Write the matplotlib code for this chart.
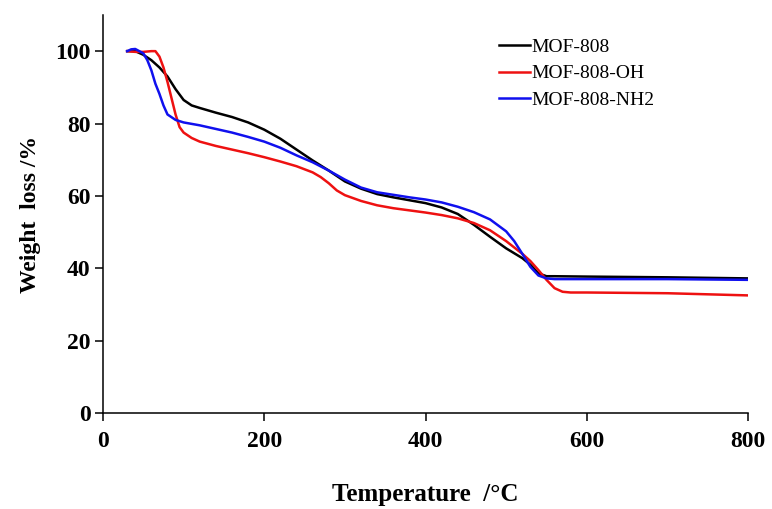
import matplotlib.pyplot as plt

# TGA curves read as (temperature degC, weight %)
t_808 = [30, 40, 50, 60, 70, 80, 90, 100, 110, 120, 140, 160, 180, 200, 220, 240, 260, 280,
         300, 320, 340, 360, 380, 400, 420, 440, 460, 480, 500, 520, 530, 540, 550, 560, 600, 700, 800]
w_808 = [100, 100, 99, 97.5, 95.5, 93, 89.5, 86.5, 85, 84.3, 83, 81.8, 80.3, 78.3, 75.8, 72.8, 69.8, 67,
         64, 62, 60.5, 59.6, 58.8, 58, 56.8, 55, 52, 48.7, 45.5, 42.8, 41, 38.6, 37.8, 37.8, 37.7, 37.5, 37.2]

t_oh = [30, 40, 50, 60, 65, 70, 75, 80, 85, 90, 95, 100, 110, 120, 140, 160, 180, 200, 220, 240, 260,
        270, 280, 290, 300, 320, 340, 360, 380, 400, 420, 440, 460, 480, 500, 520, 530, 540, 550, 560,
        570, 580, 600, 700, 800]
w_oh = [100, 99.8, 99.8, 100, 100, 98.5, 95.5, 91.5, 87, 82.5, 79, 77.5, 76, 75, 73.8, 72.8, 71.8, 70.7,
        69.5, 68.2, 66.5, 65.2, 63.5, 61.5, 60.2, 58.6, 57.4, 56.6, 56, 55.4, 54.7, 53.8, 52.5, 50.5, 47.5,
        44, 42, 39.5, 36.8, 34.5, 33.5, 33.3, 33.3, 33.1, 32.5]

t_nh2 = [30, 35, 40, 45, 50, 55, 60, 65, 70, 75, 80, 90, 100, 120, 140, 160, 180, 200, 220, 240, 260,
         280, 300, 320, 340, 360, 380, 400, 420, 440, 460, 480, 500, 510, 520, 530, 540, 550, 560, 600,
         700, 800]
w_nh2 = [100, 100.5, 100.6, 100, 99.4, 97.5, 94.7, 91, 88.2, 85, 82.5, 81, 80.3, 79.5, 78.5, 77.5, 76.3,
         75, 73.3, 71.2, 69.3, 67, 64.5, 62.3, 61, 60.3, 59.6, 59, 58.2, 57, 55.5, 53.5, 50.2, 47.5, 44,
         40.4, 38, 37.2, 37, 37, 37, 36.8]

x_ticks = [0, 200, 400, 600, 800]
y_ticks = [0, 20, 40, 60, 80, 100]

plt.rcParams['font.family'] = ['Liberation Serif', 'DejaVu Serif']

fig = plt.figure(figsize=(7.72, 5.09), dpi=100)
ax = fig.add_axes([0.1334, 0.1886, 0.8356, 0.782])

ax.plot(t_808, w_808, color='black', lw=1.8, label='MOF-808')
ax.plot(t_oh, w_oh, color='#ee1111', lw=1.8, label='MOF-808-OH')
ax.plot(t_nh2, w_nh2, color='#1010ee', lw=1.8, label='MOF-808-NH2')

ax.set_xlim(0, 800)
ax.set_ylim(0, 110)
ax.set_xticks(x_ticks)
ax.set_yticks(y_ticks)
for s in ['top', 'right']:
    ax.spines[s].set_visible(False)
for s in ['left', 'bottom']:
    ax.spines[s].set_linewidth(1.1)
ax.tick_params(direction='out', length=6, width=1.1, labelsize=17)
ax.tick_params(axis='x', pad=7)
ax.tick_params(axis='y', pad=3)
for lab in ax.get_xticklabels() + ax.get_yticklabels():
    lab.set_fontweight('bold')

ax.set_xlabel('Temperature  /\u00b0C', fontsize=18, fontweight='bold', labelpad=22)
ax.set_ylabel('Weight  loss /%', fontsize=17, fontweight='bold', labelpad=10)

ax.legend(loc='upper left', bbox_to_anchor=(0.586, 0.985), frameon=False, fontsize=14,
          handlelength=1.6, handletextpad=0.1, labelspacing=0.45)

fig.savefig('out.png', dpi=100)
